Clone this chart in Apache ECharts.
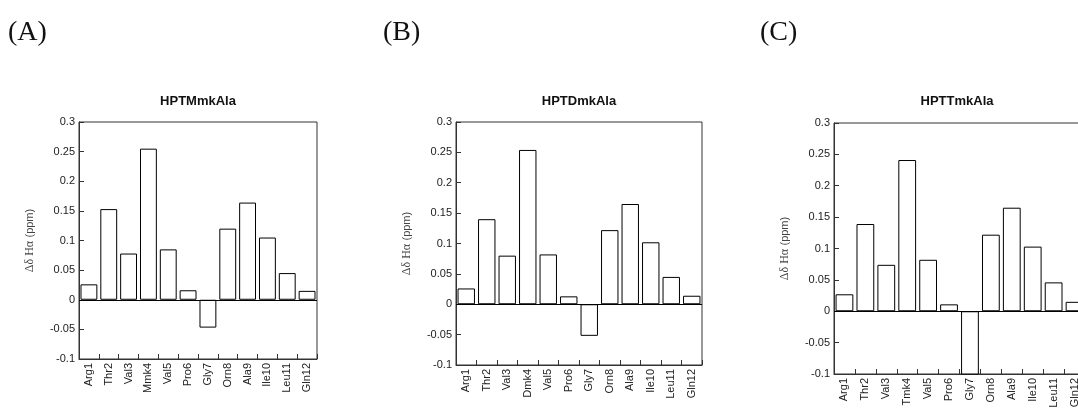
<!DOCTYPE html>
<html>
<head>
<meta charset="utf-8">
<script src="https://cdn.jsdelivr.net/npm/echarts@6/dist/echarts.min.js"></script>
<style>
html,body{margin:0;padding:0;background:#fff;}
#c{width:1078px;height:408px;}
</style>
</head>
<body>
<div id="c"></div>
<script>
const catsA = ['Arg1','Thr2','Val3','Mmk4','Val5','Pro6','Gly7','Orn8','Ala9','Ile10','Leu11','Gln12'];
const catsB = ['Arg1','Thr2','Val3','Dmk4','Val5','Pro6','Gly7','Orn8','Ala9','Ile10','Leu11','Gln12'];
const catsC = ['Arg1','Thr2','Val3','Tmk4','Val5','Pro6','Gly7','Orn8','Ala9','Ile10','Leu11','Gln12'];
const valsA = [0.026, 0.153, 0.078, 0.255, 0.085, 0.016, -0.047, 0.120, 0.164, 0.105, 0.045, 0.015];
const valsB = [0.026, 0.140, 0.080, 0.254, 0.082, 0.013, -0.052, 0.122, 0.165, 0.102, 0.045, 0.014];
const valsC = [0.027, 0.139, 0.074, 0.241, 0.082, 0.011, -0.120, 0.122, 0.165, 0.103, 0.046, 0.015];
const titles = ['HPTMmkAla', 'HPTDmkAla', 'HPTTmkAla'];
const panelLabels = ['(A)', '(B)', '(C)'];

const grids = [
  {left: 79, top: 122, width: 238, height: 237},
  {left: 456, top: 122, width: 246, height: 243},
  {left: 834, top: 123, width: 251, height: 251}
];
const gridCenters = [198, 579, 957];
const cats = [catsA, catsB, catsC];
const vals = [valsA, valsB, valsC];

const axisCol = '#333';
const textCol = '#222';

const option = {
  animation: false,
  backgroundColor: '#fff',
  grid: grids.map(g => Object.assign({show: true, borderColor: axisCol, borderWidth: 1, backgroundColor: 'transparent', containLabel: false, outerBoundsMode: 'none'}, g)),
  xAxis: cats.map((c, i) => ({
    type: 'category', gridIndex: i, data: c,
    boundaryGap: true,
    axisLine: {show: true, onZero: false, lineStyle: {color: axisCol, width: 1}},
    axisTick: {show: true, inside: true, length: 5, alignWithLabel: false, lineStyle: {color: axisCol}},
    axisLabel: {rotate: 90, interval: 0, color: textCol, fontSize: 11, fontFamily: 'Liberation Sans, Arial, sans-serif', margin: 4, hideOverlap: false},
    splitLine: {show: false}
  })),
  yAxis: cats.map((c, i) => ({
    type: 'value', gridIndex: i, min: -0.1, max: 0.3, interval: 0.05,
    name: '{s|Δδ Hα} {p|(ppm)}',
    nameLocation: 'middle', nameRotate: 90, nameGap: 43,
    nameTextStyle: {
      color: '#444',
      rich: {
        s: {fontFamily: 'Liberation Serif, serif', fontSize: 12, color: '#444'},
        p: {fontFamily: 'Liberation Sans, Arial, sans-serif', fontSize: 11, color: '#444'}
      }
    },
    axisLine: {show: true, lineStyle: {color: axisCol, width: 1}},
    axisTick: {show: true, inside: true, length: 5, lineStyle: {color: axisCol}},
    axisLabel: {color: textCol, fontSize: 11, fontFamily: 'Liberation Sans, Arial, sans-serif', margin: 4,
      formatter: v => String(Math.round(v * 100) / 100)},
    splitLine: {show: false}
  })),
  series: vals.map((v, i) => ({
    type: 'bar', xAxisIndex: i, yAxisIndex: i, data: v,
    barCategoryGap: '15%',
    clip: true,
    itemStyle: {color: '#fff', borderColor: '#000', borderWidth: 1},
    emphasis: {disabled: true},
    markLine: {
      silent: true, symbol: 'none', label: {show: false},
      lineStyle: {color: '#000', width: 1, type: 'solid'},
      data: [{yAxis: 0}]
    }
  })),
  graphic: [
    ...titles.map((t, i) => ({
      type: 'text', x: gridCenters[i], y: 101,
      style: {text: t, textAlign: 'center', textVerticalAlign: 'middle', fill: '#111',
        font: 'bold 13px "Liberation Sans", Arial, sans-serif'}
    })),
    ...panelLabels.map((t, i) => ({
      type: 'text', x: [8, 383, 760][i], y: 33,
      style: {text: t, textAlign: 'left', textVerticalAlign: 'middle', fill: '#111',
        font: '28px "Liberation Serif", "Times New Roman", serif'}
    }))
  ]
};

const chart = echarts.init(document.getElementById('c'), null, {renderer: 'canvas'});
chart.setOption(option);
</script>
</body>
</html>
